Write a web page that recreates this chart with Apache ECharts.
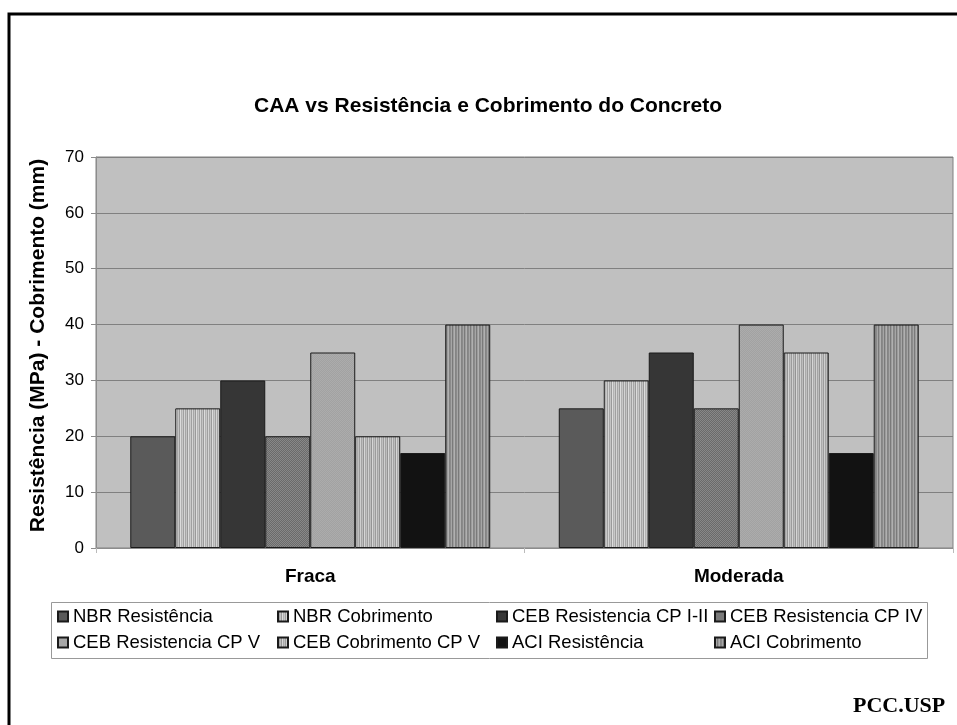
<!DOCTYPE html>
<html>
<head>
<meta charset="utf-8">
<script src="https://cdn.jsdelivr.net/npm/echarts@6/dist/echarts.min.js"></script>
<style>html,body{margin:0;padding:0;background:#fff}#c{width:957px;height:725px}</style>
</head>
<body>
<div id="c"></div>
<script>
const categories = ['Fraca', 'Moderada'];
const seriesNames = ['NBR Resistência', 'NBR Cobrimento', 'CEB Resistencia CP I-II', 'CEB Resistencia CP IV',
  'CEB Resistencia CP V', 'CEB Cobrimento CP V', 'ACI Resistência', 'ACI Cobrimento'];
const nbrResistencia = [20, 25];
const nbrCobrimento = [25, 30];
const cebCP12 = [30, 35];
const cebCP4 = [20, 25];
const cebCP5 = [35, 40];
const cebCobrimentoCP5 = [20, 35];
const aciResistencia = [17, 17];
const aciCobrimento = [40, 40];
const yTicks = { min: 0, max: 70, interval: 10 };

function stripes(cols, h) {
  const c = document.createElement('canvas');
  c.width = cols.length; c.height = h || 4;
  const g = c.getContext('2d');
  cols.forEach((col, i) => { g.fillStyle = col; g.fillRect(i, 0, 1, c.height); });
  return { image: c, repeat: 'repeat' };
}
function grid2(a, b) {
  const c = document.createElement('canvas');
  c.width = 2; c.height = 2;
  const g = c.getContext('2d');
  g.fillStyle = a; g.fillRect(0, 0, 2, 2);
  g.fillStyle = b; g.fillRect(0, 0, 1, 1); g.fillRect(1, 1, 1, 1);
  return { image: c, repeat: 'repeat' };
}

const fills = [
  '#5a5a5a',
  stripes(['#d4d4d4', '#a6a6a6', '#c4c4c4', '#9a9a9a', '#dcdcdc', '#b2b2b2', '#c8c8c8', '#a0a0a0']),
  '#363636',
  grid2('#6a6a6a', '#888888'),
  grid2('#a2a2a2', '#acacac'),
  stripes(['#cfcfcf', '#a4a4a4', '#bdbdbd', '#949494', '#d6d6d6', '#aaaaaa', '#c0c0c0', '#9c9c9c']),
  '#121212',
  stripes(['#8a8a8a', '#a6a6a6', '#7a7a7a', '#9c9c9c', '#b0b0b0', '#848484'])
];
const values = [nbrResistencia, nbrCobrimento, cebCP12, cebCP4, cebCP5, cebCobrimentoCP5, aciResistencia, aciCobrimento];

const chart = echarts.init(document.getElementById('c'), null, { renderer: 'canvas' });

const FONT = 'Liberation Sans, Arial';
const legendCols = [[0, 4], [1, 5], [2, 6], [3, 7]];
const legendX = [57, 277, 496, 714];
const legends = legendCols.map((idx, k) => ({
  orient: 'vertical',
  left: legendX[k],
  top: 607,
  padding: 0,
  itemGap: 7,
  itemWidth: 10,
  itemHeight: 10,
  itemTextGap: 4,
  icon: 'rect',
  selectedMode: false,
  textStyle: { fontFamily: FONT, fontSize: 18.5, color: '#000' },
  data: idx.map(i => seriesNames[i])
}));

chart.setOption({
  animation: false,
  backgroundColor: '#fff',
  title: {
    text: 'CAA vs Resistência e Cobrimento do Concreto',
    left: 483, top: 91, textAlign: 'center',
    textStyle: { fontFamily: FONT, fontWeight: 'bold', fontSize: 21, color: '#000' }
  },
  legend: legends,
  grid: {
    left: 96, right: 4, top: 157, bottom: 177,
    show: true, backgroundColor: '#c0c0c0', borderColor: '#808080', borderWidth: 1
  },
  xAxis: {
    type: 'category',
    data: categories,
    axisLine: { lineStyle: { color: '#8c8c8c', width: 1 } },
    axisTick: { show: true, length: 5, lineStyle: { color: '#bbbbbb' } },
    axisLabel: { fontFamily: FONT, fontWeight: 'bold', fontSize: 19, color: '#000', margin: 19 }
  },
  yAxis: {
    type: 'value',
    min: yTicks.min, max: yTicks.max, interval: yTicks.interval,
    name: 'Resistência (MPa) - Cobrimento (mm)',
    nameLocation: 'middle',
    nameGap: 47,
    nameTextStyle: { fontFamily: FONT, fontWeight: 'bold', fontSize: 21, color: '#000', padding: [0, 0, 0, 14] },
    axisLine: { show: true, lineStyle: { color: '#8c8c8c' } },
    axisTick: { show: true, length: 5, lineStyle: { color: '#8c8c8c' } },
    axisLabel: { fontFamily: FONT, fontSize: 17, color: '#000', margin: 12 },
    splitLine: { show: true, lineStyle: { color: '#808080', width: 1 } }
  },
  graphic: [
    { type: 'rect', shape: { x: 9, y: 14, width: 1000, height: 800 }, style: { fill: 'none', stroke: '#000', lineWidth: 3 }, silent: true },
    { type: 'rect', shape: { x: 51.5, y: 602.5, width: 876, height: 56 }, style: { fill: 'none', stroke: '#999', lineWidth: 1 }, silent: true },
    { type: 'text', left: 853, top: 695, style: { text: 'PCC.USP', font: 'bold 22px "Liberation Serif", "Times New Roman", serif', fill: '#000' }, silent: true }
  ],
  series: seriesNames.map((n, i) => ({
    name: n,
    type: 'bar',
    data: values[i],
    barGap: '0%',
    barCategoryGap: '16%',
    itemStyle: { color: fills[i], borderColor: '#1a1a1a', borderWidth: 1 }
  }))
});
</script>
</body>
</html>
